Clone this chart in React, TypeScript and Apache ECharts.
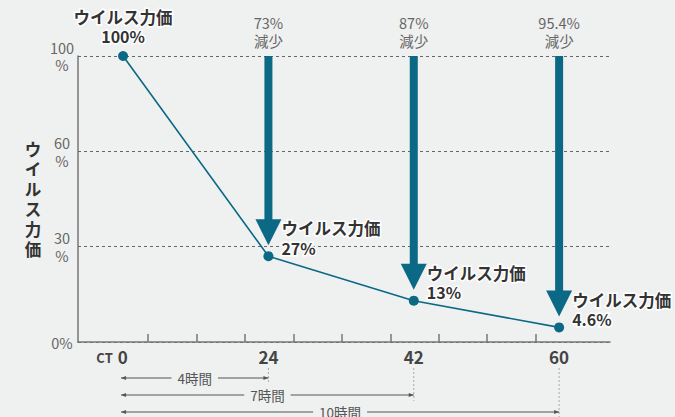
import React, { useEffect, useRef } from "react";
import * as echarts from "echarts";

// Time points (hours) and virus titer remaining (%)
const HOURS = ["0", "24", "42", "60"];
const TITER = [100, 27, 13, 4.6];
// Elapsed time shown under each later time point
const DURATIONS = ["", "4時間", "7時間", "10時間"];
// The y scale is piecewise: each band between these values gets equal height
const Y_BREAKS = [0, 30, 60, 100];
const Y_LABELS = ["0%", "30\n%", "60\n%", "100\n%"];
const TITER_NAME = "ウイルス力価";

const FONT = "'Noto Sans CJK JP', 'Noto Sans', sans-serif";
const TEAL = "#0b6985";
const BG = "#eff0f0";

// Map a percentage onto the piecewise y scale (0..3)
function toPos(v: number): number {
  for (let i = 1; i < Y_BREAKS.length; i++) {
    if (v <= Y_BREAKS[i]) {
      return i - 1 + (v - Y_BREAKS[i - 1]) / (Y_BREAKS[i] - Y_BREAKS[i - 1]);
    }
  }
  return Y_BREAKS.length - 1;
}

const TOP_POS = Y_BREAKS.length - 1;
// Decorative minor ticks along the time axis
const MINOR_TICKS = Array.from({ length: 9 }, (_, k) => 0.172 + k / 3);

export default function App() {
  const ref = useRef<HTMLDivElement>(null);

  useEffect(() => {
    if (!ref.current) return;
    const chart = echarts.init(ref.current, null, { renderer: "svg" });

    const linePoints = TITER.map((v, i) => [i, toPos(v)]);
    const arrowData = TITER.slice(1).map((v, i) => [i + 1, toPos(v), v]);
    const bracketData = DURATIONS.map((d, i) => [i, 0, d]).slice(1);

    const labelRich = {
      fontFamily: FONT,
      fontSize: 16,
      fontWeight: "bold",
      color: "#333",
      lineHeight: 19.5,
      textBorderColor: "#fff",
      textBorderWidth: 3,
    };

    chart.setOption({
      animation: false,
      backgroundColor: BG,
      textStyle: { fontFamily: FONT },
      grid: { left: 78, right: 65, top: 56, bottom: 75 },
      xAxis: {
        type: "value",
        min: -0.31,
        max: 3.35,
        axisLine: { show: true, onZero: false, lineStyle: { color: "#777", width: 1.5 } },
        axisTick: {
          show: true,
          inside: true,
          length: 8,
          customValues: MINOR_TICKS,
          lineStyle: { color: "#777", width: 1.5 },
        },
        axisLabel: {
          customValues: HOURS.map((_, i) => i),
          margin: 6,
          fontFamily: FONT,
          fontSize: 17,
          fontWeight: "bold",
          color: "#444",
          formatter: (v: number) => {
            const i = Math.round(v);
            if (i === 0) return `{ct|CT}{n|${HOURS[0]}}{sp|}`;
            return `{n|${HOURS[i]}}`;
          },
          rich: {
            ct: { fontSize: 13, fontWeight: "bold", color: "#444", fontFamily: FONT, padding: [3, 5, 0, 0] },
            n: { fontSize: 17, fontWeight: "bold", color: "#444", fontFamily: FONT },
            sp: { width: 22 },
          },
        },
        splitLine: { show: false },
      },
      yAxis: {
        type: "value",
        min: 0,
        max: TOP_POS,
        interval: 1,
        name: TITER_NAME.split("").join("\n"),
        nameLocation: "middle",
        nameRotate: 0,
        nameGap: 45,
        nameTextStyle: {
          fontFamily: FONT,
          fontSize: 16.5,
          fontWeight: "bold",
          color: "#333",
          lineHeight: 20,
          align: "center",
          verticalAlign: "middle",
        },
        axisLine: { show: true, onZero: false, lineStyle: { color: "#777", width: 1.5 } },
        axisTick: { show: false },
        axisLabel: {
          margin: 16,
          align: "center",
          fontFamily: FONT,
          fontSize: 14.5,
          lineHeight: 17.5,
          color: "#666",
          formatter: (v: number) => Y_LABELS[Math.round(v)] ?? "",
        },
        splitLine: {
          show: true,
          lineStyle: { color: "#666", type: [3, 3], width: 1 },
        },
      },
      series: [
        {
          type: "custom",
          z: 3,
          clip: false,
          data: arrowData,
          renderItem: (params: any, api: any) => {
            const x = api.value(0);
            const y = api.value(1);
            const v = api.value(2);
            const top = api.coord([x, TOP_POS]);
            const pt = api.coord([x, y]);
            const tipY = pt[1] - 11;
            const headH = 26;
            const headW = 26;
            const reduction = Math.round((100 - v) * 10) / 10;
            return {
              type: "group",
              children: [
                {
                  type: "rect",
                  shape: { x: top[0] - 4, y: top[1], width: 8, height: tipY - headH - top[1] + 1 },
                  style: { fill: TEAL },
                },
                {
                  type: "polygon",
                  shape: {
                    points: [
                      [top[0] - headW / 2, tipY - headH],
                      [top[0] + headW / 2, tipY - headH],
                      [top[0], tipY],
                    ],
                  },
                  style: { fill: TEAL },
                },
                {
                  type: "text",
                  x: top[0],
                  y: top[1] - 7,
                  style: {
                    text: `${reduction}%\n減少`,
                    align: "center",
                    verticalAlign: "bottom",
                    fontFamily: FONT,
                    fontSize: 14.5,
                    lineHeight: 18,
                    fill: "#666",
                  },
                },
              ],
            };
          },
        },
        {
          type: "line",
          z: 4,
          data: linePoints.map((p, i) => ({
            value: p,
            label:
              i === 0
                ? { show: true, position: "top", distance: 5, align: "center" }
                : { show: true, position: "right", distance: 8, offset: [0, -18], align: "left" },
          })),
          symbol: "circle",
          symbolSize: 10,
          lineStyle: { color: TEAL, width: 1.6 },
          itemStyle: { color: TEAL },
          label: {
            show: true,
            formatter: (p: any) => `{t|${TITER_NAME}}\n{v|${TITER[p.dataIndex]}%}`,
            textBorderColor: "#fff",
            textBorderWidth: 3,
            rich: {
              t: { ...labelRich, fontSize: 16.5 },
              v: labelRich,
            },
          },
        },
        {
          type: "custom",
          z: 2,
          clip: false,
          data: bracketData,
          renderItem: (params: any, api: any) => {
            const x = api.value(0);
            const idx = params.dataIndex;
            const start = api.coord([0, 0]);
            const end = api.coord([x, 0]);
            const axisY = start[1];
            const y = axisY + 36 + 17 * idx;
            const x0 = start[0] - 2;
            const x1 = end[0];
            const col = "#555";
            return {
              type: "group",
              children: [
                {
                  type: "line",
                  shape: { x1: x1, y1: axisY + 26, x2: x1, y2: y + 6 },
                  style: { stroke: "#aaa", lineWidth: 1, lineDash: [2, 2] },
                },
                {
                  type: "line",
                  shape: { x1: x0, y1: y, x2: x1, y2: y },
                  style: { stroke: col, lineWidth: 1 },
                },
                {
                  type: "polygon",
                  shape: { points: [[x0, y], [x0 + 5, y - 2], [x0 + 5, y + 2]] },
                  style: { fill: col },
                },
                {
                  type: "polygon",
                  shape: { points: [[x1, y], [x1 - 5, y - 2], [x1 - 5, y + 2]] },
                  style: { fill: col },
                },
                {
                  type: "text",
                  x: (x0 + x1) / 2,
                  y: y,
                  style: {
                    text: api.value(2),
                    align: "center",
                    verticalAlign: "middle",
                    fontFamily: FONT,
                    fontSize: 13.5,
                    fill: "#555",
                    backgroundColor: BG,
                    padding: [0, 6],
                  },
                },
              ],
            };
          },
        },
      ],
    });

    return () => chart.dispose();
  }, []);

  return (
    <div
      ref={ref}
      style={{ position: "absolute", left: 0, top: 0, width: 675, height: 417 }}
    />
  );
}
